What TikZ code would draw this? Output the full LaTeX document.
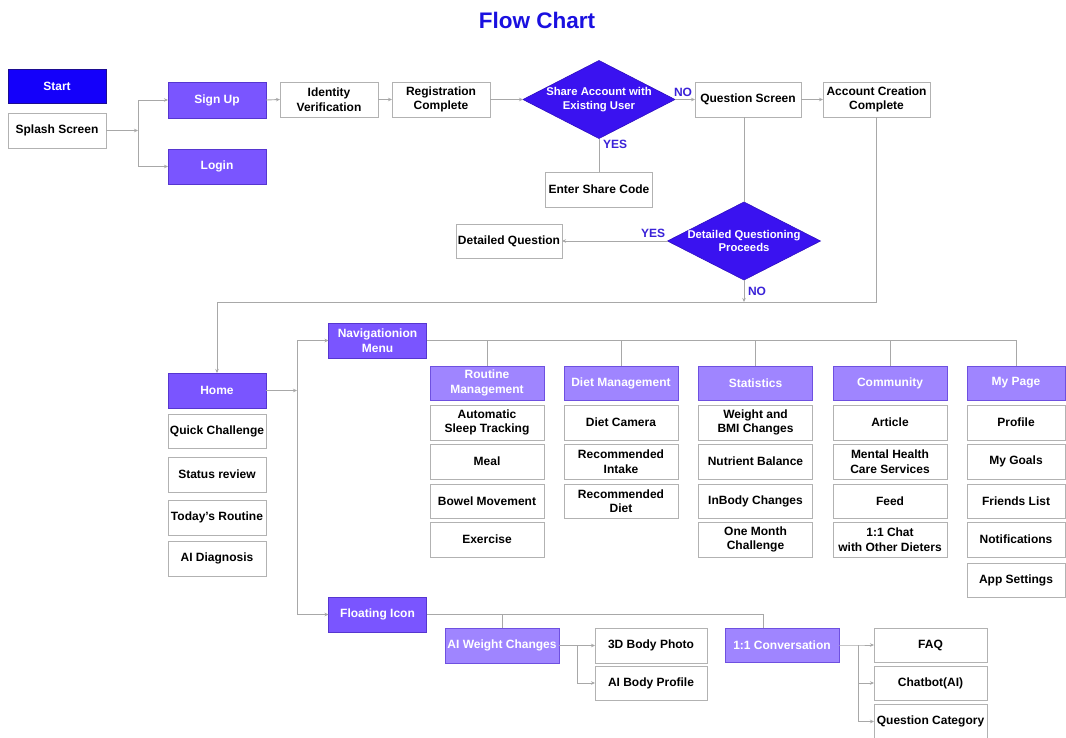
\documentclass[tikz,border=0pt]{standalone}
\usepackage{fontspec}
\setmainfont{Liberation Sans}
\usetikzlibrary{shapes.geometric,arrows.meta}
\definecolor{lnc}{HTML}{A8A8A8}
\definecolor{bdc}{HTML}{B2B2B2}
\definecolor{startc}{HTML}{1400FA}
\definecolor{startbd}{HTML}{1C0C90}
\definecolor{prim}{HTML}{7A55FF}
\definecolor{primbd}{HTML}{5636D0}
\definecolor{sec}{HTML}{9F85FF}
\definecolor{secbd}{HTML}{6E50E0}
\definecolor{diac}{HTML}{3A12F0}
\definecolor{lblc}{HTML}{3A22D8}
\definecolor{titlec}{HTML}{1A10E0}
\begin{document}
\begin{tikzpicture}[x=1pt,y=-1pt,
  font=\fontsize{12}{14.5}\selectfont\bfseries,
  box/.style={draw=bdc, line width=0.9pt, fill=white, align=center, inner sep=1pt,
    minimum width=98pt, minimum height=35pt, text=black, outer sep=0pt},
  pbox/.style={box, fill=prim, draw=primbd, text=white},
  sbox/.style={box, fill=sec, draw=secbd, text=white, minimum width=114pt, minimum height=34pt},
  stbox/.style={box, fill=startc, draw=startbd, text=white},
  wbox/.style={box, minimum width=114pt},
  dia/.style={diamond, fill=diac, draw=diac!80!black, line width=0.6pt, inner sep=0pt, outer sep=0pt},
  diatext/.style={text=white, align=center, font=\fontsize{11.3}{13.5}\selectfont\bfseries},
  lbl/.style={text=lblc, inner sep=0pt},
  conn/.style={draw=lnc, line width=0.9pt},
  arr/.style={conn, -{Stealth[length=4pt,width=3.5pt]}}
]
\fill[white] (0,0) rectangle (1066,737);
\useasboundingbox (0,0) rectangle (1066,737);

% title
\node[text=titlec, font=\fontsize{22.5}{26}\selectfont\bfseries] (title) at (537,20) {Flow Chart};

% top row
\node[stbox, minimum height=34pt] (start) at (57,86) {Start};
\node[box] (splash) at (57,130.5) {Splash Screen};
\node[pbox, minimum height=36pt] (signup) at (217,100) {Sign Up};
\node[pbox] (login) at (217,166.5) {Login};
\node[box] (ident) at (329,99.5) {Identity\\Verification};
\node[box] (regc) at (441,99.5) {Registration\\Complete};
\node[dia, minimum width=152pt, minimum height=78pt] (d1) at (599,99.5) {};
\node[diatext] (d1t) at (d1.center) {Share Account with\\Existing User};
\node[box, minimum width=106pt] (qs) at (748,99.5) {Question Screen};
\node[box, minimum width=107pt] (acc) at (876.5,99.5) {Account Creation\\Complete};
\node[box, minimum width=107pt] (share) at (599,189.5) {Enter Share Code};
\node[dia, minimum width=153pt, minimum height=78pt] (d2) at (744,241) {};
\node[diatext] (d2t) at (d2.center) {Detailed Questioning\\Proceeds};
\node[box, minimum width=106pt, minimum height=34pt] (detq) at (509,241) {Detailed Question};

% labels
\node[lbl] (no1) at (683,92) {NO};
\node[lbl] (yes1) at (615,144) {YES};
\node[lbl] (yes2) at (653,233.5) {YES};
\node[lbl] (no2) at (757,291.5) {NO};

% top connectors
\coordinate (sb) at (138,130.5);
\draw[arr] (splash.east) -- (sb);
\draw[arr] (sb) |- (signup.west);
\draw[arr] (sb) |- (login.west);
\draw[arr] (signup.east) -- (ident.west);
\draw[arr] (ident.east) -- (regc.west);
\draw[arr] (regc.east) -- (d1.west);
\draw[arr] (d1.east) -- (qs.west);
\draw[arr] (qs.east) -- (acc.west);
\draw[conn] (d1.south) -- (share.north);
\draw[conn] (qs.south -| d2.north) -- (d2.north);
\draw[arr] (d2.west) -- (detq.east);
\coordinate (bend) at (217,302);
\draw[arr] (acc.south) |- (bend) -- (217,373);
\draw[arr] (d2.south) -- (d2.south |- bend);

% home column
\node[pbox] (home) at (217,390.5) {Home};
\node[box, minimum height=34pt] (quick) at (217,431) {Quick Challenge};
\node[box] (status) at (217,474.5) {Status review};
\node[box] (today) at (217,517.5) {Today’s Routine};
\node[box] (aidiag) at (217,558.5) {AI Diagnosis};

\node[pbox] (nav) at (377.5,340.5) {Navigationion\\Menu};
\node[pbox] (float) at (377.5,614.5) {Floating Icon};

\coordinate (bx) at (297,390.5);
\draw[arr] (home.east) -- (bx);
\draw[arr] (bx) |- (nav.west);
\draw[arr] (bx) |- (float.west);

% menu headers
\node[sbox] (routine) at (487,383) {Routine\\Management};
\node[sbox] (diet) at (621,383) {Diet Management};
\node[sbox] (stats) at (755.5,383) {Statistics};
\node[sbox] (comm) at (890,383) {Community};
\node[sbox, minimum width=98pt] (mypage) at (1016,383) {My Page};

\draw[conn] (nav.east) -| (mypage.north);
\draw[conn] (routine.north) -- (routine.north |- nav.east);
\draw[conn] (diet.north) -- (diet.north |- nav.east);
\draw[conn] (stats.north) -- (stats.north |- nav.east);
\draw[conn] (comm.north) -- (comm.north |- nav.east);

% routine column
\node[wbox] (sleep) at (487,422.5) {Automatic\\Sleep Tracking};
\node[wbox] (meal) at (487,461.5) {Meal};
\node[wbox, minimum height=34pt] (bowel) at (487,501) {Bowel Movement};
\node[wbox] (exer) at (487,539.5) {Exercise};
% diet column
\node[wbox] (dcam) at (621,422.5) {Diet Camera};
\node[wbox] (rint) at (621,461.5) {Recommended\\Intake};
\node[wbox, minimum height=34pt] (rdiet) at (621,501) {Recommended\\Diet};
% statistics column
\node[wbox] (wbmi) at (755.5,422.5) {Weight and\\BMI Changes};
\node[wbox] (nutr) at (755.5,461.5) {Nutrient Balance};
\node[wbox, minimum height=34pt] (inbody) at (755.5,501) {InBody Changes};
\node[wbox] (omc) at (755.5,539.5) {One Month\\Challenge};
% community column
\node[wbox] (art) at (890,422.5) {Article};
\node[wbox] (mhc) at (890,461.5) {Mental Health\\Care Services};
\node[wbox, minimum height=34pt] (feed) at (890,501) {Feed};
\node[wbox] (chat11) at (890,539.5) {1:1 Chat\\with Other Dieters};
% my page column
\node[box] (prof) at (1016,422.5) {Profile};
\node[box] (goals) at (1016,461.5) {My Goals};
\node[box, minimum height=34pt] (friends) at (1016,501) {Friends List};
\node[box] (notif) at (1016,539.5) {Notifications};
\node[box, minimum height=34pt] (apps) at (1016,580) {App Settings};

% floating icon branch
\node[sbox, minimum height=35pt] (aiw) at (502,645.5) {AI Weight Changes};
\node[box, minimum width=112pt] (p3d) at (651,645.5) {3D Body Photo};
\node[box, minimum width=112pt, minimum height=34pt] (aibp) at (651,683) {AI Body Profile};
\node[sbox] (conv) at (782,645) {1:1 Conversation};
\node[box, minimum width=113pt, minimum height=34pt] (faq) at (930.5,645) {FAQ};
\node[box, minimum width=113pt, minimum height=34pt] (cbot) at (930.5,683) {Chatbot(AI)};
\node[box, minimum width=113pt] (qcat) at (930.5,721.5) {Question Category};

\coordinate (fdrop) at (763,614.5);
\draw[conn] (float.east) -- (fdrop) -- (fdrop |- conv.north);
\draw[conn] (aiw.north) -- (aiw.north |- fdrop);

\coordinate (ab) at (577,645.5);
\draw[arr] (aiw.east) -- (ab) -- (p3d.west);
\draw[arr] (ab) |- (aibp.west);

\coordinate (cb) at (858,645);
\draw[arr] (conv.east) -- (cb) -- (faq.west);
\draw[arr] (cb) |- (cbot.west);
\draw[arr] (cb) |- (qcat.west);
\end{tikzpicture}
\end{document}
